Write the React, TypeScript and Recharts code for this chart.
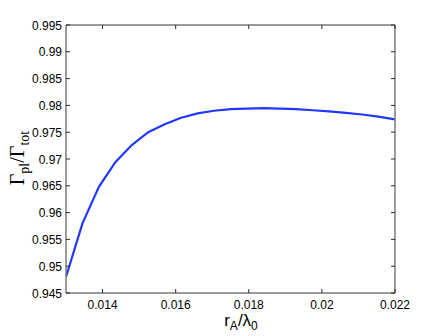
import React from "react";
import { LineChart, Line, XAxis, YAxis } from "recharts";

const rValues = [
  0.013, 0.01345, 0.0139, 0.01435, 0.0148, 0.01525, 0.0157, 0.01615, 0.0166, 0.01705, 0.0175,
  0.01795, 0.0184, 0.01885, 0.0193, 0.01975, 0.0202, 0.02065, 0.0211, 0.02155, 0.022,
];
const ratioValues = [
  0.948, 0.958, 0.9648, 0.9694, 0.9726, 0.975, 0.9765, 0.9777, 0.9785, 0.979, 0.9793,
  0.9794, 0.9795, 0.9794, 0.9793, 0.9791, 0.9789, 0.9786, 0.9783, 0.9779, 0.9774,
];
const xTicks = [0.014, 0.016, 0.018, 0.02, 0.022];
const yTicks = [0.945, 0.95, 0.955, 0.96, 0.965, 0.97, 0.975, 0.98, 0.985, 0.99, 0.995];

const data = rValues.map((r, i) => ({ r, v: ratioValues[i] }));

const FRAME = "#7a7a7a";
const TICK = "#2a2a2a";
const FONT = "'Liberation Sans', Arial, sans-serif";

const BottomTick = (p: any) => (
  <g>
    <line x1={p.x} x2={p.x} y1={p.y} y2={p.y - 4} stroke={TICK} strokeWidth={1} />
    <text x={p.x} y={p.y + 16} textAnchor="middle" fontSize={12} fontFamily={FONT} fill="#000">
      {String(p.payload.value)}
    </text>
  </g>
);
const LeftTick = (p: any) => (
  <g>
    <line x1={p.x} x2={p.x + 4} y1={p.y} y2={p.y} stroke={TICK} strokeWidth={1} />
    <text x={p.x - 4} y={p.y + 4.5} textAnchor="end" fontSize={12} fontFamily={FONT} fill="#000">
      {String(p.payload.value)}
    </text>
  </g>
);
const TopTick = (p: any) => (
  <line x1={p.x} x2={p.x} y1={p.y} y2={p.y + 4} stroke={TICK} strokeWidth={1} />
);
const RightTick = (p: any) => (
  <line x1={p.x} x2={p.x - 4} y1={p.y} y2={p.y} stroke={TICK} strokeWidth={1} />
);

const YLabel = () => (
  <text
    x={24}
    y={158}
    transform="rotate(-90 24 158)"
    textAnchor="middle"
    fontFamily="'Liberation Serif', 'Times New Roman', serif"
    fontSize={20}
    fill="#000"
  >
    <tspan>Γ</tspan>
    <tspan fontSize={14} dy={5}>pl</tspan>
    <tspan dy={-5}>/Γ</tspan>
    <tspan fontSize={14} dy={5}>tot</tspan>
  </text>
);

const XLabel = () => (
  <text x={241} y={326} textAnchor="middle" fontFamily={FONT} fontSize={17} fill="#000">
    <tspan>r</tspan>
    <tspan fontSize={12} dy={4}>A</tspan>
    <tspan dy={-4}>/λ</tspan>
    <tspan fontSize={12} dy={4}>0</tspan>
  </text>
);

export default function App() {
  return (
    <div style={{ position: "absolute", left: 0, top: 0, width: 436, height: 336, background: "#fff" }}>
      <LineChart width={436} height={336} data={data} margin={{ top: 24, right: 40, bottom: 0, left: 0 }}>
        <XAxis
          dataKey="r"
          type="number"
          domain={[0.013, 0.022]}
          ticks={xTicks}
          interval={0}
          height={43}
          tickSize={0}
          tickMargin={0}
          tickLine={false}
          axisLine={{ stroke: FRAME, strokeWidth: 1.5 }}
          tick={BottomTick}
          allowDataOverflow
          label={{ content: () => <XLabel /> }}
        />
        <XAxis
          xAxisId="top"
          orientation="top"
          dataKey="r"
          type="number"
          domain={[0.013, 0.022]}
          ticks={xTicks}
          interval={0}
          height={1}
          tickSize={0}
          tickMargin={0}
          tickLine={false}
          axisLine={{ stroke: FRAME, strokeWidth: 1.5 }}
          tick={TopTick}
          allowDataOverflow
        />
        <YAxis
          type="number"
          domain={[0.945, 0.995]}
          ticks={yTicks}
          interval={0}
          width={66}
          tickSize={0}
          tickMargin={0}
          tickLine={false}
          axisLine={{ stroke: FRAME, strokeWidth: 1.5 }}
          tick={LeftTick}
          allowDataOverflow
          label={{ content: () => <YLabel /> }}
        />
        <YAxis
          yAxisId="right"
          orientation="right"
          type="number"
          domain={[0.945, 0.995]}
          ticks={yTicks}
          interval={0}
          width={1}
          tickSize={0}
          tickMargin={0}
          tickLine={false}
          axisLine={{ stroke: FRAME, strokeWidth: 1.5 }}
          tick={RightTick}
          allowDataOverflow
        />
        <Line
          dataKey="v"
          type="linear"
          stroke="#2238ff"
          strokeWidth={2.2}
          dot={false}
          isAnimationActive={false}
        />
      </LineChart>
    </div>
  );
}
